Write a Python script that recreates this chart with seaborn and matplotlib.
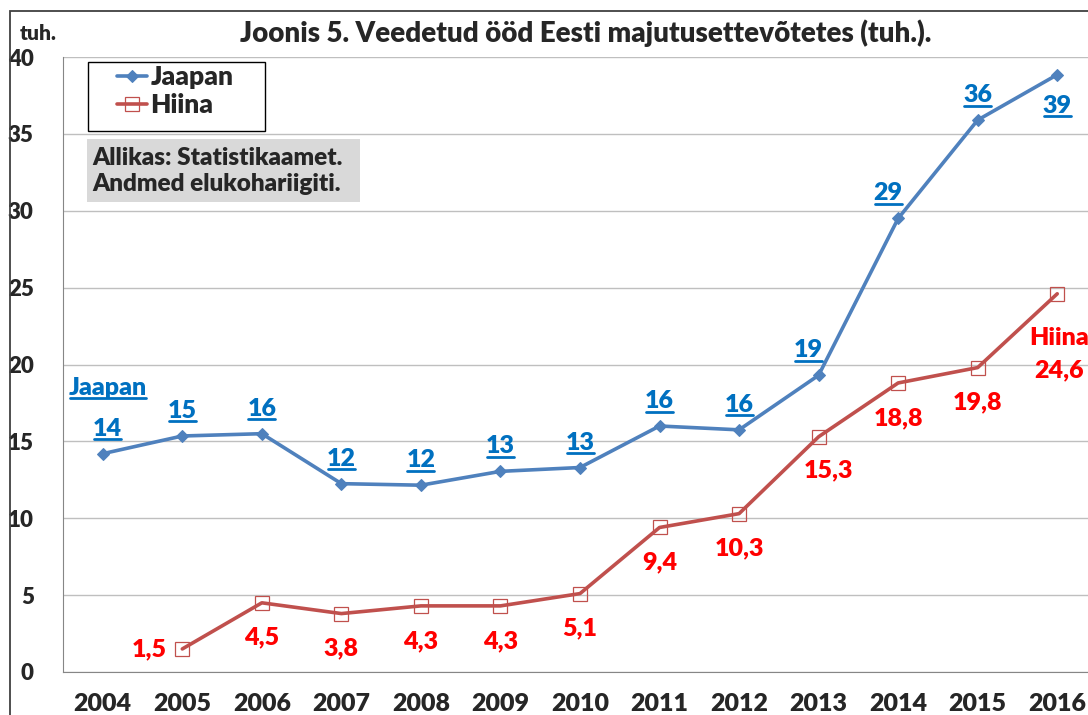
import numpy as np
import pandas as pd
import seaborn as sns
import matplotlib.pyplot as plt
from matplotlib.lines import Line2D
from matplotlib.patches import Rectangle
from matplotlib.ticker import MultipleLocator

# andmed (tuh. ööd)
years = list(range(2004, 2017))
jaapan = [14.2, 15.35, 15.5, 12.25, 12.15, 13.05, 13.3, 16.0, 15.75, 19.3, 29.5, 35.9, 38.85]
jaapan_labels = ['14', '15', '16', '12', '12', '13', '13', '16', '16', '19', '29', '36', '39']
hiina_years = list(range(2005, 2017))
hiina = [1.5, 4.5, 3.8, 4.3, 4.3, 5.1, 9.4, 10.3, 15.3, 18.8, 19.8, 24.6]
hiina_labels = ['1,5', '4,5', '3,8', '4,3', '4,3', '5,1', '9,4', '10,3', '15,3', '18,8', '19,8', '24,6']
yticks = list(range(0, 41, 5))

title = 'Joonis 5. Veedetud ööd Eesti majutusettevõtetes (tuh.).'
source = 'Allikas: Statistikaamet.\nAndmed elukohariigiti.'

sns.set_style('white')
plt.rcParams['font.family'] = ['Lato', 'DejaVu Sans']
WT = 'heavy'
plt.rcParams['font.weight'] = WT

W, H = 1088, 715
blue = '#4F81BD'
red = '#C0504D'
lblue = '#0070C0'
lred = '#FF0000'
grey = '#868686'

fig = plt.figure(figsize=(W / 100, H / 100), dpi=100)
ax = fig.add_axes([63 / W, (H - 672) / H, 1034 / W, 615 / H])

sns.lineplot(x=years, y=jaapan, ax=ax, color=blue, linewidth=2.6, marker='D',
             markersize=6.5, markeredgecolor=blue, markerfacecolor=blue, label='Jaapan')
sns.lineplot(x=hiina_years, y=hiina, ax=ax, color=red, linewidth=2.6, marker='s',
             markersize=10, markeredgecolor=red, markerfacecolor='none',
             markeredgewidth=0.9, label='Hiina')

ax.set_xlim(2003.5, 2016.5)
ax.set_ylim(0, 40)
ax.set_yticks(yticks)
ax.set_xticks(years)
ax.xaxis.set_minor_locator(MultipleLocator(1, offset=0.5))
ax.tick_params(axis='x', which='major', length=0, pad=15, labelsize=18)
ax.tick_params(axis='x', which='minor', length=9, width=1, color=grey, direction='out')
ax.tick_params(axis='y', length=8, width=1, color=grey, direction='out', pad=13, labelsize=16)
for lab in ax.get_xticklabels() + ax.get_yticklabels():
    lab.set_fontweight(WT)
ax.yaxis.grid(True, color='#BFBFBF', lw=1)
ax.xaxis.grid(False)
sns.despine(ax=ax, top=True, right=True)
ax.spines['left'].set_color(grey)
ax.spines['bottom'].set_color(grey)
ax.set_xlabel('')
ax.set_ylabel('')

# legend
leg = ax.legend(loc='upper left', bbox_to_anchor=(117 / W, 1 - 65 / H),
                bbox_transform=fig.transFigure, frameon=False, fontsize=19,
                borderpad=0, borderaxespad=0, handlelength=1.15,
                handletextpad=0.12, labelspacing=0.15)
for t in leg.get_texts():
    t.set_fontweight(WT)
fig.patches.append(Rectangle((88 / W, 1 - 131 / H), 177 / W, 69 / H, fill=False,
                             edgecolor='black', lw=1, transform=fig.transFigure))

# source box
fig.patches.append(Rectangle((87 / W, 1 - 202 / H), 273 / W, 63 / H, facecolor='#D9D9D9',
                             edgecolor='none', transform=fig.transFigure))
fig.text(92 / W, 1 - 171 / H, source, ha='left', va='center', fontsize=17.5,
         fontweight=WT, linespacing=1.2)

fig.text(586 / W, 1 - 33 / H, title, ha='center', va='center', fontsize=20, fontweight=WT)
fig.text(20 / W, 1 - 34 / H, 'tuh.', ha='left', va='center', fontsize=15, fontweight=WT)

# outer chart frame
fig.patches.append(Rectangle((10 / W, -0.2), 2, 1.2 - 11 / H, fill=False,
                             edgecolor='#404040', lw=1.3, transform=fig.transFigure))

# data labels
underlined = []
jp_dx = {2004: 5, 2013: -10, 2014: -10}
for yr, v, s in zip(years, jaapan, jaapan_labels):
    dx = jp_dx.get(yr, 0)
    dy = -38 if yr == 2016 else 18
    t = ax.annotate(s, (yr, v), xytext=(dx, dy), textcoords='offset pixels', ha='center',
                    va='baseline', color=lblue, fontsize=18, fontweight=WT)
    underlined.append((t, yr, v, dy))
t = ax.annotate('Jaapan', (2004, jaapan[0]), xytext=(5, 59), textcoords='offset pixels',
                ha='center', va='baseline', color=lblue, fontsize=18, fontweight=WT)
underlined.append((t, 2004, jaapan[0], 59))

for yr, v, s in zip(hiina_years, hiina, hiina_labels):
    if yr == 2005:
        dx, dy = -33, 0
    elif yr == 2016:
        dx, dy = 2, -77
    elif yr == 2013:
        dx, dy = 10, -34
    else:
        dx, dy = 0, -35
    ax.annotate(s, (yr, v), xytext=(dx, dy), textcoords='offset pixels', ha='center',
                va='center', color=lred, fontsize=18, fontweight=WT)
ax.annotate('Hiina', (2016, hiina[-1]), xytext=(2, -44), textcoords='offset pixels',
            ha='center', va='center', color=lred, fontsize=18, fontweight=WT,
            annotation_clip=False)

# underline the blue labels
fig.canvas.draw()
r = fig.canvas.get_renderer()
for t, yr, v, dy in underlined:
    bb = t.get_window_extent(r)
    base = ax.transData.transform((yr, v))[1] + dy
    yl = (base - 3.5) / H
    fig.add_artist(Line2D([(bb.x0 + 1) / W, (bb.x1 - 1) / W], [yl, yl], color=lblue,
                          lw=2, transform=fig.transFigure))

fig.savefig('out.png', dpi=100)
